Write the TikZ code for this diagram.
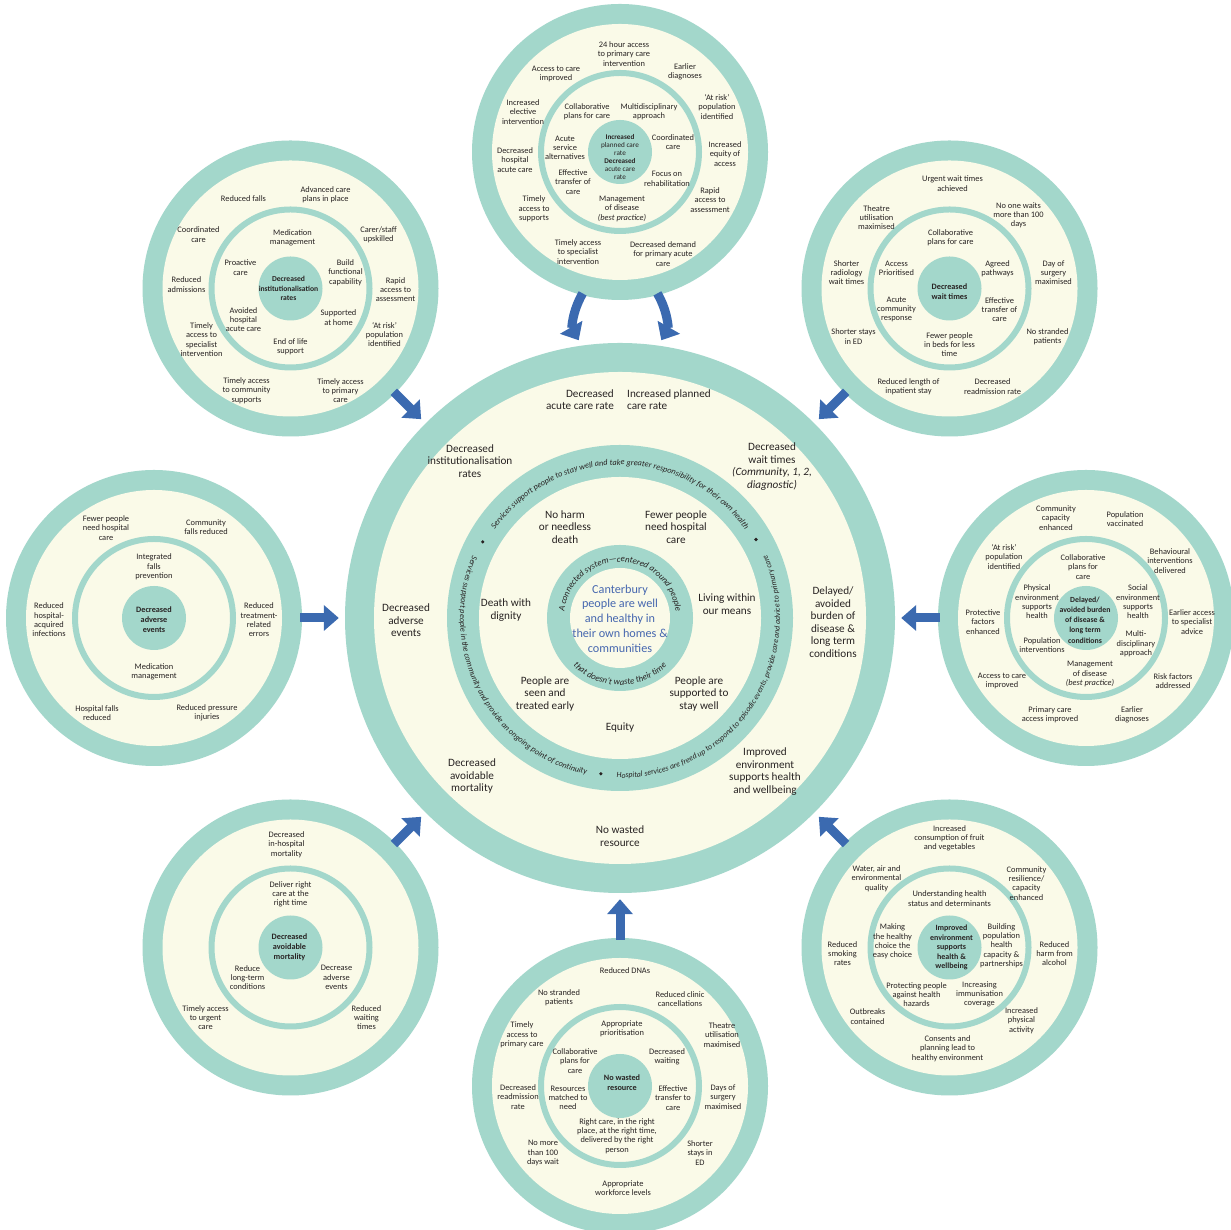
\documentclass[tikz,border=0pt]{standalone}
\usepackage{fontspec}
\setmainfont{Carlito}
\usetikzlibrary{arrows.meta,decorations.text}
\definecolor{ringteal}{RGB}{163,215,203}
\definecolor{cream}{RGB}{250,250,232}
\definecolor{arrowblue}{RGB}{59,106,176}
\definecolor{ink}{RGB}{40,35,35}
\definecolor{canblue}{RGB}{70,103,175}
\newcommand{\satframe}[2]{%
  \node[satring] (#1) at (#2) {};
  \fill[cream] (#1.center) circle (128);
  \draw[ringteal, line width=6pt] (#1.center) circle (79);
  \fill[ringteal] (#1.center) circle (32);
}
\begin{document}
\begin{tikzpicture}[x=1pt,y=1pt,
  satring/.style={circle, fill=ringteal, minimum size=296pt, inner sep=0pt},
  hubdisc/.style={circle, fill=ringteal, minimum size=550pt, inner sep=0pt},
  lab/.style={align=center, inner sep=0pt, text=ink, font=\fontsize{11.2}{12.5}\selectfont},
  canlab/.style={align=center, inner sep=0pt, text=canblue, font=\fontsize{12.2}{14.8}\selectfont},
  sl/.style={align=center, inner sep=0pt, text=ink, font=\fontsize{8.4}{9.3}\selectfont},
  sd/.style={align=center, inner sep=0pt, text=ink, font=\fontsize{8.2}{10}\selectfont\bfseries},
  bigarrow/.style={draw=arrowblue, line width=9pt, -{Triangle[width=25pt,length=15pt]},
    shorten >=6pt, shorten <=-2pt},
  ringtext/.style={decorate, decoration={text along path, text align=center, text color=ink}}
]
\useasboundingbox (0,0) rectangle (1231,1230);
\fill[white] (0,0) rectangle (1231,1230);

% central hub: outer ring, middle ring, inner ring
\node[hubdisc] (hub) at (620,612) {};
\fill[cream] (hub.center) circle (246);
\fill[ringteal] (hub.center) circle (173);
\fill[cream] (hub.center) circle (141);
\fill[ringteal] (hub.center) circle (73);
\fill[cream] (hub.center) circle (50);

% eight outcome satellites
\satframe{sT}{620,1078}
\satframe{sTL}{290.5,941.5}
\satframe{sTR}{949.5,941.5}
\satframe{sL}{154,612}
\satframe{sR}{1086,612}
\satframe{sBL}{290.5,282.5}
\satframe{sBR}{949.5,282.5}
\satframe{sB}{620,144}

% arrows into the hub
\draw[bigarrow] (sTL) -- (hub);
\draw[bigarrow] (sTR) -- (hub);
\draw[bigarrow] (sL) -- (hub);
\draw[bigarrow] (sR) -- (hub);
\draw[bigarrow] (sBL) -- (hub);
\draw[bigarrow] (sBR) -- (hub);
\draw[bigarrow] (sB) -- (hub);
\draw[bigarrow] (sT.255) to[bend right=30] (hub.98);
\draw[bigarrow] (sT.285) to[bend left=30] (hub.82);

% text on the middle ring
\path[ringtext, decoration={text={|\fontsize{8.3}{9}\selectfont\itshape|Services support people to stay well and take greater responsibility for their own health}}]
  ([shift={(146:153)}]hub.center) arc[start angle=146, end angle=34, radius=153];
\path[ringtext, decoration={text={|\fontsize{8.2}{9}\selectfont\itshape|Services support people in the community and provide an ongoing point of continuity}}]
  ([shift={(156:160)}]hub.center) arc[start angle=156, end angle=259, radius=160];
\path[ringtext, decoration={text={|\fontsize{7.9}{9}\selectfont\itshape|Hospital services are freed up to respond to episodic events, provide care and advice to primary care}}]
  ([shift={(267:160)}]hub.center) arc[start angle=267, end angle=385, radius=160];
\fill[ink] ([shift={(151:157)}]hub.center) circle (1.8);
\fill[ink] ([shift={(30:157)}]hub.center) circle (1.8);
\fill[ink] ([shift={(263:157)}]hub.center) circle (1.8);

% text on the inner ring
\path[ringtext, decoration={text={|\fontsize{8.8}{10}\selectfont\itshape|A connected system—centered around people}}]
  ([shift={(182:56)}]hub.center) arc[start angle=182, end angle=-2, radius=56];
\path[ringtext, decoration={text={|\fontsize{8.8}{10}\selectfont\itshape|that doesn't waste their time}}]
  ([shift={(214:67)}]hub.center) arc[start angle=214, end angle=326, radius=67];

% hub labels
\node[canlab] (lCore) at (620,611.5) {Canterbury\\people are well\\and healthy in\\their own homes \&\\communities};
\node[lab, anchor=east, align=right] (lAcute) at (614,830.5) {Decreased\\acute care rate};
\node[lab, anchor=west, align=left] (lPlanned) at (627,830.5) {Increased planned\\care rate};
\node[lab] (lInst) at (470,769) {Decreased\\institutionalisation\\rates};
\node[lab] (lWait) at (772,763.5) {Decreased\\wait times\\\textit{(Community, 1, 2,}\\\textit{diagnostic)}};
\node[lab] (lAdv) at (406,609.5) {Decreased\\adverse\\events};
\node[lab] (lBurden) at (833,608) {Delayed/\\avoided\\burden of\\disease \&\\long term\\conditions};
\node[lab] (lMort) at (472,453.5) {Decreased\\avoidable\\mortality};
\node[lab] (lEnv) at (765,458.5) {Improved\\environment\\supports health\\and wellbeing};
\node[lab] (lWaste) at (620,394) {No wasted\\resource};
\node[lab] (lHarm) at (565,703) {No harm\\or needless\\death};
\node[lab] (lFewer) at (676,703) {Fewer people\\need hospital\\care};
\node[lab] (lDignity) at (506,620) {Death with\\dignity};
\node[lab] (lMeans) at (727,626) {Living within\\our means};
\node[lab] (lEarly) at (545,536) {People are\\seen and\\treated early};
\node[lab] (lWell) at (699,536) {People are\\supported to\\stay well};
\node[lab] (lEquity) at (620,502) {Equity};

% top satellite: planned and acute care
\begin{scope}[shift={(sT.center)}, yscale=-1]
\node[sd, font=\fontsize{7.2}{8}\selectfont] (TD) at (0,5) {\textbf{Increased}\\planned care\\rate\\\textbf{Decreased}\\acute care\\rate};
\node[sl] (T1) at (4,-98) {24 hour access\\to primary care\\intervention};
\node[sl] (T2) at (-64,-78) {Access to care\\improved};
\node[sl] (T3) at (65,-80) {Earlier\\diagnoses};
\node[sl] (T4) at (-97,-40) {Increased\\elective\\intervention};
\node[sl] (T5) at (97,-45) {‘At risk’\\population\\identified};
\node[sl] (T6) at (-105,8) {Decreased\\hospital\\acute care};
\node[sl] (T7) at (105,2) {Increased\\equity of\\access};
\node[sl] (T8) at (-86,57) {Timely\\access to\\supports};
\node[sl] (T9) at (90,48) {Rapid\\access to\\assessment};
\node[sl] (T10) at (-42,100) {Timely access\\to specialist\\intervention};
\node[sl] (T11) at (43,102) {Decreased demand\\for primary acute\\care};
\node[sl] (T12) at (-33,-40) {Collaborative\\plans for care};
\node[sl] (T13) at (29,-40) {Multidisciplinary\\approach};
\node[sl] (T14) at (-55,-4) {Acute\\service\\alternatives};
\node[sl] (T15) at (53,-10) {Coordinated\\care};
\node[sl] (T16) at (-47,30) {Effective\\transfer of\\care};
\node[sl] (T17) at (47,27) {Focus on\\rehabilitation};
\node[sl] (T18) at (2,57) {Management\\of disease\\\textit{(best practice)}};
\end{scope}

% top-left satellite: institutionalisation
\begin{scope}[shift={(sTL.center)}, yscale=-1]
\node[sd, font=\fontsize{7.6}{9.5}\selectfont\bfseries] (AD) at (-2,0) {Decreased\\institutionalisation\\rates};
\node[sl] (A1) at (-47,-90) {Reduced falls};
\node[sl] (A2) at (35,-94) {Advanced care\\plans in place};
\node[sl] (A3) at (-92,-54) {Coordinated\\care};
\node[sl] (A4) at (88,-54) {Carer/staff\\upskilled};
\node[sl] (A5) at (-104,-4) {Reduced\\admissions};
\node[sl] (A6) at (105,1) {Rapid\\access to\\assessment};
\node[sl] (A7) at (-89,51) {Timely\\access to\\specialist\\intervention};
\node[sl] (A8) at (94,46) {‘At risk’\\population\\identified};
\node[sl] (A9) at (-44,102) {Timely access\\to community\\supports};
\node[sl] (A10) at (50,102) {Timely access\\to primary\\care};
\node[sl] (A11) at (2,-51) {Medication\\management};
\node[sl] (A12) at (-50,-21) {Proactive\\care};
\node[sl] (A13) at (55,-16) {Build\\functional\\capability};
\node[sl] (A14) at (-47,31) {Avoided\\hospital\\acute care};
\node[sl] (A15) at (48,29) {Supported\\at home};
\node[sl] (A16) at (0,58) {End of life\\support};
\end{scope}

% top-right satellite: wait times
\begin{scope}[shift={(sTR.center)}, yscale=-1]
\node[sd] (BD) at (0,3) {Decreased\\wait times};
\node[sl] (B1) at (3,-105) {Urgent wait times\\achieved};
\node[sl] (B2) at (-73,-71) {Theatre\\utilisation\\maximised};
\node[sl] (B3) at (69,-73) {No one waits\\more than 100\\days};
\node[sl] (B4) at (-103,-16) {Shorter\\radiology\\wait times};
\node[sl] (B5) at (104,-16) {Day of\\surgery\\maximised};
\node[sl] (B6) at (-96,48) {Shorter stays\\in ED};
\node[sl] (B7) at (98,48) {No stranded\\patients};
\node[sl] (B8) at (-41,98) {Reduced length of\\inpatient stay};
\node[sl] (B9) at (43,98) {Decreased\\readmission rate};
\node[sl] (B10) at (1,-51) {Collaborative\\plans for care};
\node[sl] (B11) at (-53,-20) {Access\\Prioritised};
\node[sl] (B12) at (48,-20) {Agreed\\pathways};
\node[sl] (B13) at (-53,21) {Acute\\community\\response};
\node[sl] (B14) at (50,21) {Effective\\transfer of\\care};
\node[sl] (B15) at (0,56) {Fewer people\\in beds for less\\time};
\end{scope}

% left satellite: adverse events
\begin{scope}[shift={(sL.center)}, yscale=-1]
\node[sd] (CD) at (0,2) {Decreased\\adverse\\events};
\node[sl] (C1) at (-48,-90) {Fewer people\\need hospital\\care};
\node[sl] (C2) at (52,-91) {Community\\falls reduced};
\node[sl] (C3) at (-105,2) {Reduced\\hospital-\\acquired\\infections};
\node[sl] (C4) at (105,2) {Reduced\\treatment-\\related\\errors};
\node[sl] (C5) at (-57,95) {Hospital falls\\reduced};
\node[sl] (C6) at (53,95) {Reduced pressure\\injuries};
\node[sl] (C7) at (0,-51) {Integrated\\falls\\prevention};
\node[sl] (C8) at (0,54) {Medication\\management};
\end{scope}

% right satellite: long term conditions
\begin{scope}[shift={(sR.center)}, yscale=-1]
\node[sd, font=\fontsize{7.8}{10.2}\selectfont\bfseries] (DD) at (-1,2) {Delayed/\\avoided burden\\of disease \&\\long term\\conditions};
\node[sl] (D1) at (-30,-100) {Community\\capacity\\enhanced};
\node[sl] (D2) at (39,-99) {Population\\vaccinated};
\node[sl] (D3) at (-82,-61) {‘At risk’\\population\\identified};
\node[sl] (D4) at (84,-57) {Behavioural\\interventions\\delivered};
\node[sl] (D5) at (-103,4) {Protective\\factors\\enhanced};
\node[sl] (D6) at (106,4) {Earlier access\\to specialist\\advice};
\node[sl] (D7) at (-84,63) {Access to care\\improved};
\node[sl] (D8) at (87,63) {Risk factors\\addressed};
\node[sl] (D9) at (-36,97) {Primary care\\access improved};
\node[sl] (D10) at (46,97) {Earlier\\diagnoses};
\node[sl] (D11) at (-3,-51) {Collaborative\\plans for\\care};
\node[sl] (D12) at (-49,-16) {Physical\\environment\\supports\\health};
\node[sl] (D13) at (52,-16) {Social\\environment\\supports\\health};
\node[sl] (D14) at (-44,27) {Population\\interventions};
\node[sl] (D15) at (50,26) {Multi-\\disciplinary\\approach};
\node[sl] (D16) at (4,56) {Management\\of disease\\\textit{(best practice)}};
\end{scope}

% bottom-left satellite: avoidable mortality
\begin{scope}[shift={(sBL.center)}, yscale=-1]
\node[sd] (ED) at (-1,0) {Decreased\\avoidable\\mortality};
\node[sl] (E1) at (-4,-103) {Decreased\\in-hospital\\mortality};
\node[sl] (E2) at (-85,70) {Timely access\\to urgent\\care};
\node[sl] (E3) at (76,70) {Reduced\\waiting\\times};
\node[sl] (E4) at (0,-53) {Deliver right\\care at the\\right time};
\node[sl] (E5) at (-43,30) {Reduce\\long-term\\conditions};
\node[sl] (E6) at (46,30) {Decrease\\adverse\\events};
\end{scope}

% bottom-right satellite: environment
\begin{scope}[shift={(sBR.center)}, yscale=-1]
\node[sd, font=\fontsize{8}{9.6}\selectfont\bfseries] (FD) at (2,0) {Improved\\environment\\supports\\health \&\\wellbeing};
\node[sl] (F1) at (0,-109) {Increased\\consumption of fruit\\and vegetables};
\node[sl] (F2) at (-73,-69) {Water, air and\\environmental\\quality};
\node[sl] (F3) at (77,-64) {Community\\resilience/\\capacity\\enhanced};
\node[sl] (F4) at (-107,6) {Reduced\\smoking\\rates};
\node[sl] (F5) at (105,6) {Reduced\\harm from\\alcohol};
\node[sl] (F6) at (-82,69) {Outbreaks\\contained};
\node[sl] (F7) at (72,73) {Increased\\physical\\activity};
\node[sl] (F8) at (-2,101) {Consents and\\planning lead to\\healthy environment};
\node[sl] (F9) at (0,-49) {Understanding health\\status and determinants};
\node[sl] (F10) at (-57,-6) {Making\\the healthy\\choice the\\easy choice};
\node[sl] (F11) at (52,-2) {Building\\population\\health\\capacity \&\\partnerships};
\node[sl] (F12) at (-33,47) {Protecting people\\against health\\hazards};
\node[sl] (F13) at (30,47) {Increasing\\immunisation\\coverage};
\end{scope}

% bottom satellite: wasted resource
\begin{scope}[shift={(sB.center)}, yscale=-1]
\node[sd] (GD) at (2,-3) {No wasted\\resource};
\node[sl] (G1) at (5,-115) {Reduced DNAs};
\node[sl] (G2) at (-61,-88) {No stranded\\patients};
\node[sl] (G3) at (60,-87) {Reduced clinic\\cancellations};
\node[sl] (G4) at (-98,-51) {Timely\\access to\\primary care};
\node[sl] (G5) at (102,-51) {Theatre\\utilisation\\maximised};
\node[sl] (G6) at (-102,11) {Decreased\\readmission\\rate};
\node[sl] (G7) at (103,11) {Days of\\surgery\\maximised};
\node[sl] (G8) at (-77,67) {No more\\than 100\\days wait};
\node[sl] (G9) at (80,67) {Shorter\\stays in\\ED};
\node[sl] (G10) at (3,102) {Appropriate\\workforce levels};
\node[sl] (G11) at (2,-57) {Appropriate\\prioritisation};
\node[sl] (G12) at (-45,-25) {Collaborative\\plans for\\care};
\node[sl] (G13) at (47,-29) {Decreased\\waiting};
\node[sl] (G14) at (-52,12) {Resources\\matched to\\need};
\node[sl] (G15) at (53,12) {Effective\\transfer to\\care};
\node[sl] (G16) at (-3,50) {Right care, in the right\\place, at the right time,\\delivered by the right\\person};
\end{scope}
\end{tikzpicture}
\end{document}
